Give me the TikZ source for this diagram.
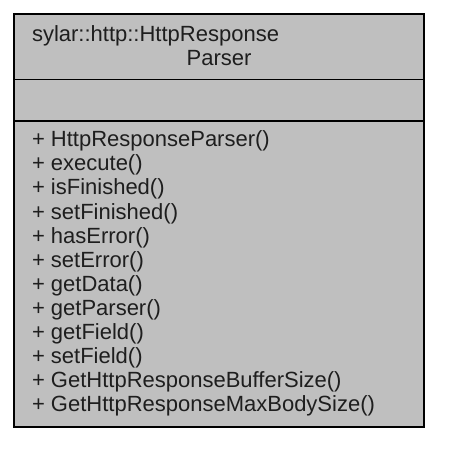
\documentclass[tikz,border=0pt]{standalone}
\usepackage{fontspec}
\setmainfont{Liberation Sans}
\definecolor{boxfill}{RGB}{191,191,191}
\definecolor{txt}{RGB}{30,30,30}
\begin{document}
\begin{tikzpicture}[x=1pt,y=-1pt,
  txtstyle/.style={inner sep=0pt,outer sep=0pt,text=txt,font=\fontsize{22}{24.1}\selectfont},
  classbox/.style={draw=black,line width=1.6pt,fill=boxfill},
  divider/.style={draw=black,line width=1.6pt}]
\useasboundingbox (0,0) rectangle (466,456);
\draw[classbox] (14,14) rectangle (424,427);
\coordinate (d1l) at (14,79.3);
\coordinate (d1r) at (424,79.3);
\coordinate (d2l) at (14,120.7);
\coordinate (d2r) at (424,120.7);
\draw[divider] (d1l) -- (d1r);
\draw[divider] (d2l) -- (d2r);
\node[txtstyle,anchor=base west] (t1) at (32,41) {sylar::http::HttpResponse};
\node[txtstyle,anchor=base] (t2) at (219,65.1) {Parser};
\foreach \t [count=\i] in {HttpResponseParser(),execute(),isFinished(),setFinished(),hasError(),setError(),getData(),getParser(),getField(),setField(),GetHttpResponseBufferSize(),GetHttpResponseMaxBodySize()}
  \node[txtstyle,anchor=base west] (m\i) at (32,{146.7+(\i-1)*24.1}) {+ \t};
\end{tikzpicture}
\end{document}
